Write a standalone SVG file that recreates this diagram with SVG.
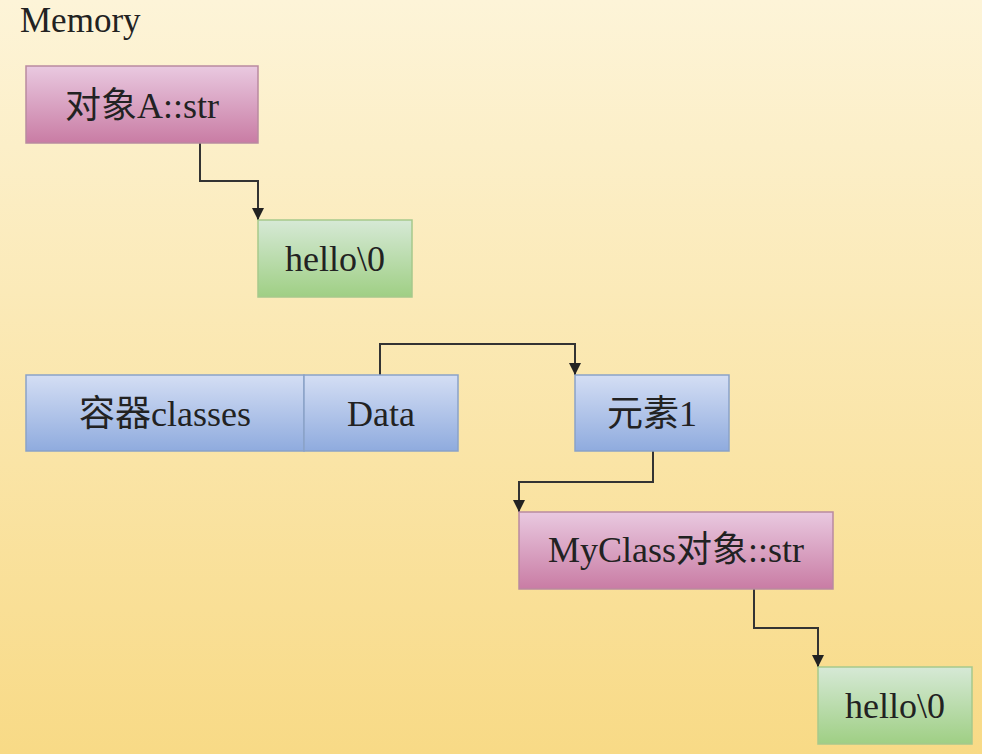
<svg xmlns="http://www.w3.org/2000/svg" width="982" height="754" viewBox="0 0 982 754">
<defs>
<linearGradient id="bg" x1="0" y1="0" x2="0" y2="1">
<stop offset="0" stop-color="#fdf4d8"/>
<stop offset="1" stop-color="#f8da86"/>
</linearGradient>
<linearGradient id="pink" x1="0" y1="0" x2="0" y2="1">
<stop offset="0" stop-color="#e9c9e0"/>
<stop offset="1" stop-color="#c97ca4"/>
</linearGradient>
<linearGradient id="green" x1="0" y1="0" x2="0" y2="1">
<stop offset="0" stop-color="#d6e9d6"/>
<stop offset="1" stop-color="#9fcf84"/>
</linearGradient>
<linearGradient id="blue" x1="0" y1="0" x2="0" y2="1">
<stop offset="0" stop-color="#d4def4"/>
<stop offset="1" stop-color="#8fabde"/>
</linearGradient>
<marker id="arr" viewBox="0 0 10 10" refX="10" refY="5" markerWidth="12" markerHeight="12" markerUnits="userSpaceOnUse" orient="auto">
<path d="M0,0 L10,5 L0,10 z" fill="#222"/>
</marker>
<style>
text{font-family:"Liberation Serif","Noto Sans CJK SC",serif;font-size:36px;fill:#222;text-anchor:middle}
.pk{fill:url(#pink);stroke:#b98aa0;stroke-width:1.5}
.gr{fill:url(#green);stroke:#a6c98c;stroke-width:1.5}
.bl{fill:url(#blue);stroke:#8aa2c8;stroke-width:1.5}
.c{fill:none;stroke:#333;stroke-width:2;marker-end:url(#arr)}
</style>
</defs>
<rect width="982" height="754" fill="url(#bg)"/>
<text x="20" y="32" style="text-anchor:start;font-size:35px">Memory</text>
<g id="connectors">
<path class="c" d="M200,143 V181 H258 V220"/>
<path class="c" d="M380,375 V344 H575 V375"/>
<path class="c" d="M653,451 V482 H519 V512"/>
<path class="c" d="M754,589 V628 H818 V667"/>
</g>
<g id="objA">
<rect class="pk" x="26" y="66" width="232" height="77"/>
<text x="142" y="118">对象A::str</text>
</g>
<g id="hello1">
<rect class="gr" x="258" y="220" width="154" height="77"/>
<text x="335" y="271">hello\0</text>
</g>
<g id="container">
<rect class="bl" x="26" y="375" width="278" height="76"/>
<text x="165" y="426">容器classes</text>
</g>
<g id="data">
<rect class="bl" x="304" y="375" width="154" height="76"/>
<text x="381" y="426">Data</text>
</g>
<g id="elem1">
<rect class="bl" x="575" y="375" width="154" height="76"/>
<text x="652" y="426">元素1</text>
</g>
<g id="myclass">
<rect class="pk" x="519" y="512" width="314" height="77"/>
<text x="676" y="562">MyClass对象::str</text>
</g>
<g id="hello2">
<rect class="gr" x="818" y="667" width="154" height="77"/>
<text x="895" y="718">hello\0</text>
</g>
</svg>
